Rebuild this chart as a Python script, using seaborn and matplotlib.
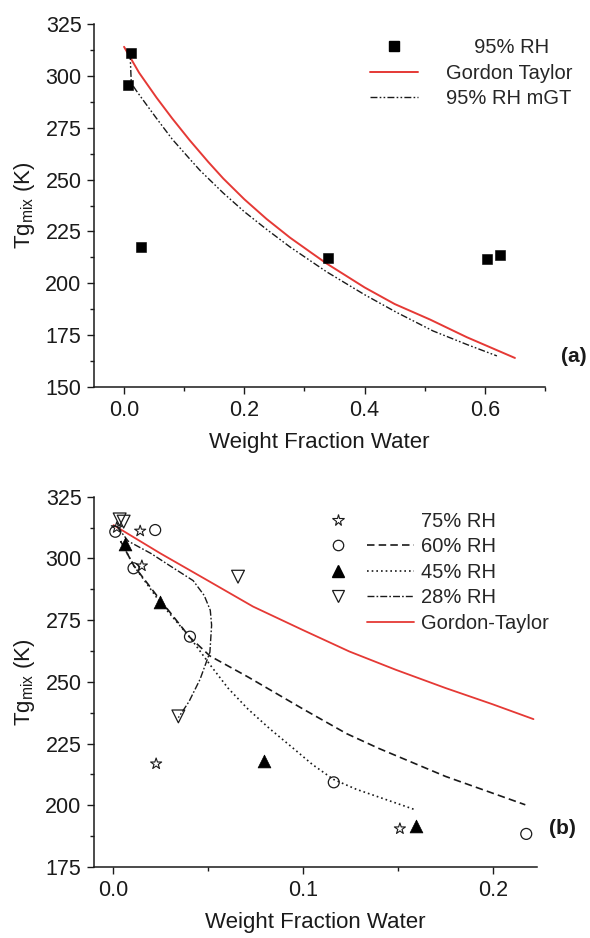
import matplotlib
matplotlib.use("Agg")
import matplotlib.pyplot as plt
from matplotlib.lines import Line2D
from matplotlib.legend_handler import HandlerTuple
from matplotlib.ticker import MultipleLocator, FixedLocator
import seaborn as sns

# ---------------- data: panel (a), 95% RH ----------------
rh95_w = [0.0067, 0.0123, 0.0278, 0.3386, 0.603, 0.625]
rh95_tg = [295.6, 310.9, 217.3, 212.3, 211.7, 213.5]

gt_a_w = [0.0, 0.025, 0.054, 0.08, 0.109, 0.14, 0.165, 0.2, 0.237, 0.276,
          0.31, 0.337, 0.4, 0.45, 0.509, 0.57, 0.61, 0.65]
gt_a_tg = [314, 301.5, 289.5, 279.5, 269, 258.5, 250.5, 240.5, 231, 222,
           215, 209.5, 198, 190, 182.5, 174, 169, 164]

mgt_w = [0.010, 0.012, 0.02, 0.035, 0.054, 0.08, 0.109, 0.126, 0.165, 0.2,
         0.237, 0.276, 0.337, 0.4, 0.453, 0.514, 0.57, 0.62]
mgt_tg = [311, 296.5, 293, 287, 279.5, 269.5, 260, 254.5, 243.5, 234.5,
          226, 217.5, 205.5, 194.5, 186, 177, 170.5, 165]

# ---------------- data: panel (b), lower humidities ----------------
rh75_w = [0.002, 0.0143, 0.0152, 0.0227, 0.151]
rh75_tg = [312.5, 311.1, 297.0, 216.8, 190.5]

rh60_w = [0.0012, 0.0108, 0.0222, 0.0405, 0.1162, 0.2175]
rh60_tg = [310.8, 296.0, 311.5, 268.3, 209.3, 188.4]

rh45_w = [0.0064, 0.0248, 0.0793, 0.1593]
rh45_tg = [306.0, 282.5, 217.8, 191.7]

rh28_w = [0.0035, 0.0056, 0.0344, 0.0658]
rh28_tg = [315.8, 314.9, 236.0, 292.6]

fit60_w = [0.004, 0.011, 0.025, 0.0405, 0.051, 0.071, 0.1, 0.123, 0.14, 0.175, 0.217]
fit60_tg = [307, 297, 283, 268, 260.5, 252, 239, 229, 223, 211.7, 200.2]

fit45_w = [0.004, 0.011, 0.025, 0.0405, 0.051, 0.0605, 0.071, 0.0825, 0.095,
           0.105, 0.116, 0.128, 0.14, 0.159]
fit45_tg = [307, 297, 282, 268, 257, 247.5, 239, 231, 223,
            216.5, 210.5, 206.5, 203.3, 198.2]

fit28_w = [0.002, 0.008, 0.02, 0.03, 0.0422, 0.048, 0.0512, 0.0519, 0.051,
           0.0458, 0.040, 0.0344]
fit28_tg = [313, 307, 302, 297, 291, 285, 279, 273, 262, 251, 242, 235.5]

gt_b_w = [0.0003, 0.0248, 0.0493, 0.0737, 0.0999, 0.1244, 0.1488, 0.175, 0.1995, 0.2213]
gt_b_tg = [313.5, 302.1, 291.3, 280.5, 271, 262.3, 254.9, 247.5, 241, 234.9]

# ---------------- styling ----------------
sns.set_theme(style="ticks")
plt.rcParams["font.family"] = ["Liberation Sans", "DejaVu Sans"]
plt.rcParams["mathtext.fontset"] = "custom"
plt.rcParams["mathtext.rm"] = "Liberation Sans"
plt.rcParams["mathtext.it"] = "Liberation Sans:italic"

RED = "#e53935"
INK = "#1a1a1a"
TICK_FS = 15.5
LABEL_FS = 16
LEG_FS = 14.5

ls_mgt = (0, (5, 1.6, 1.2, 1.6, 1.2, 1.6))
ls_60 = (0, (4.5, 2.5))
ls_45 = (0, (1, 1.8))
ls_28 = (0, (5, 1.5, 1.2, 1.5))

W, H = 590, 938
fig = plt.figure(figsize=(W / 100, H / 100), dpi=100)
ax1 = fig.add_axes([94 / W, 1 - 387 / H, (545 - 94) / W, (387 - 24) / H])
ax2 = fig.add_axes([94 / W, 1 - 867 / H, (536.7 - 94) / W, (867 - 496.7) / H])


def style_axes(ax):
    sns.despine(ax=ax)
    for side in ("left", "bottom"):
        ax.spines[side].set_linewidth(1.1)
        ax.spines[side].set_color(INK)
    ax.tick_params(which="major", direction="out", length=5, width=1.0,
                   color=INK, labelsize=TICK_FS, labelcolor=INK, pad=4)
    ax.tick_params(which="minor", direction="out", length=2.8, width=1.0, color=INK)
    ax.set_xlabel("Weight Fraction Water", fontsize=LABEL_FS, color=INK, labelpad=8)
    ax.set_ylabel(r"Tg$_{\mathregular{mix}}$ (K)", fontsize=LABEL_FS, color=INK, labelpad=6)


# ---------------- panel (a) ----------------
sns.lineplot(x=gt_a_w, y=gt_a_tg, ax=ax1, color=RED, lw=1.4, sort=False,
             estimator=None, zorder=2)
sns.lineplot(x=mgt_w, y=mgt_tg, ax=ax1, color=INK, lw=1.0, linestyle=ls_mgt,
             sort=False, estimator=None, zorder=2)
sns.scatterplot(x=rh95_w, y=rh95_tg, ax=ax1, marker="s", s=55, color="black",
                edgecolor="black", linewidth=0.4, zorder=3, legend=False)

ax1.set_xlim(-0.05, 0.70)
ax1.set_ylim(150, 325)
ax1.xaxis.set_major_locator(FixedLocator([0.0, 0.2, 0.4, 0.6]))
ax1.xaxis.set_minor_locator(FixedLocator([0.1, 0.3, 0.5, 0.7]))
ax1.yaxis.set_major_locator(MultipleLocator(25))
ax1.yaxis.set_minor_locator(MultipleLocator(12.5))
style_axes(ax1)

h_sq = Line2D([], [], ls="none", marker="s", ms=6.8, color="black")
h_gt = Line2D([], [], color=RED, lw=1.4)
h_mgt = Line2D([], [], color=INK, lw=1.0, ls=ls_mgt)
ax1.legend([h_sq, h_gt, h_mgt], ["     95% RH", "Gordon Taylor", "95% RH mGT"],
           loc="upper left", bbox_to_anchor=(370 / W, 1 - 38 / H),
           bbox_transform=fig.transFigure, frameon=False, fontsize=LEG_FS,
           handlelength=2.4, handletextpad=1.35, borderpad=0, borderaxespad=0,
           labelspacing=0.33)

fig.text(574 / W, 1 - 357 / H, "(a)", ha="center", va="center",
         fontsize=15, fontweight="bold", color=INK)

# ---------------- panel (b) ----------------
sns.lineplot(x=gt_b_w, y=gt_b_tg, ax=ax2, color=RED, lw=1.3, sort=False,
             estimator=None, zorder=2)
sns.lineplot(x=fit60_w, y=fit60_tg, ax=ax2, color=INK, lw=1.2, linestyle=ls_60,
             sort=False, estimator=None, zorder=2)
sns.lineplot(x=fit45_w, y=fit45_tg, ax=ax2, color=INK, lw=1.2, linestyle=ls_45,
             sort=False, estimator=None, zorder=2)
sns.lineplot(x=fit28_w, y=fit28_tg, ax=ax2, color=INK, lw=1.0, linestyle=ls_28,
             sort=False, estimator=None, zorder=2)

sns.scatterplot(x=rh75_w, y=rh75_tg, ax=ax2, marker="*", s=70, facecolor="none",
                edgecolor=INK, linewidth=0.8, zorder=3, legend=False)
sns.scatterplot(x=rh60_w, y=rh60_tg, ax=ax2, marker="o", s=62, facecolor="none",
                edgecolor=INK, linewidth=0.9, zorder=3, legend=False)
sns.scatterplot(x=rh45_w, y=rh45_tg, ax=ax2, marker="^", s=85, color="black",
                edgecolor="black", linewidth=0.5, zorder=3, legend=False)
sns.scatterplot(x=rh28_w, y=rh28_tg, ax=ax2, marker="v", s=85, facecolor="none",
                edgecolor=INK, linewidth=0.9, zorder=3, legend=False)

ax2.set_xlim(-0.01, 0.223)
ax2.set_ylim(175, 325)
ax2.xaxis.set_major_locator(FixedLocator([0.0, 0.1, 0.2]))
ax2.xaxis.set_minor_locator(FixedLocator([0.05, 0.15]))
ax2.yaxis.set_major_locator(MultipleLocator(25))
ax2.yaxis.set_minor_locator(MultipleLocator(12.5))
style_axes(ax2)

blank = Line2D([], [], ls="none")
h_star = Line2D([], [], ls="none", marker="*", ms=8.5, mfc="none", mec=INK, mew=0.8)
h_circ = Line2D([], [], ls="none", marker="o", ms=7.5, mfc="none", mec=INK, mew=0.9)
h_tri = Line2D([], [], ls="none", marker="^", ms=8.5, color="black")
h_vtri = Line2D([], [], ls="none", marker="v", ms=8.5, mfc="none", mec=INK, mew=0.9)
h_60 = Line2D([], [], color=INK, lw=1.2, ls=ls_60)
h_45 = Line2D([], [], color=INK, lw=1.2, ls=ls_45)
h_28 = Line2D([], [], color=INK, lw=1.0, ls=ls_28)
h_gtb = Line2D([], [], color=RED, lw=1.3)
ax2.legend([(h_star, blank), (h_circ, h_60), (h_tri, h_45), (h_vtri, h_28), (blank, h_gtb)],
           ["75% RH", "60% RH", "45% RH", "28% RH", "Gordon-Taylor"],
           handler_map={tuple: HandlerTuple(ndivide=None, pad=0.3)},
           loc="upper left", bbox_to_anchor=(315 / W, 1 - 512 / H),
           bbox_transform=fig.transFigure, frameon=False, fontsize=LEG_FS,
           handlelength=4.9, handletextpad=0.35, borderpad=0, borderaxespad=0,
           labelspacing=0.32)

fig.text(562 / W, 1 - 828 / H, "(b)", ha="center", va="center",
         fontsize=15, fontweight="bold", color=INK)

fig.savefig("out.png", dpi=100, facecolor="white")
